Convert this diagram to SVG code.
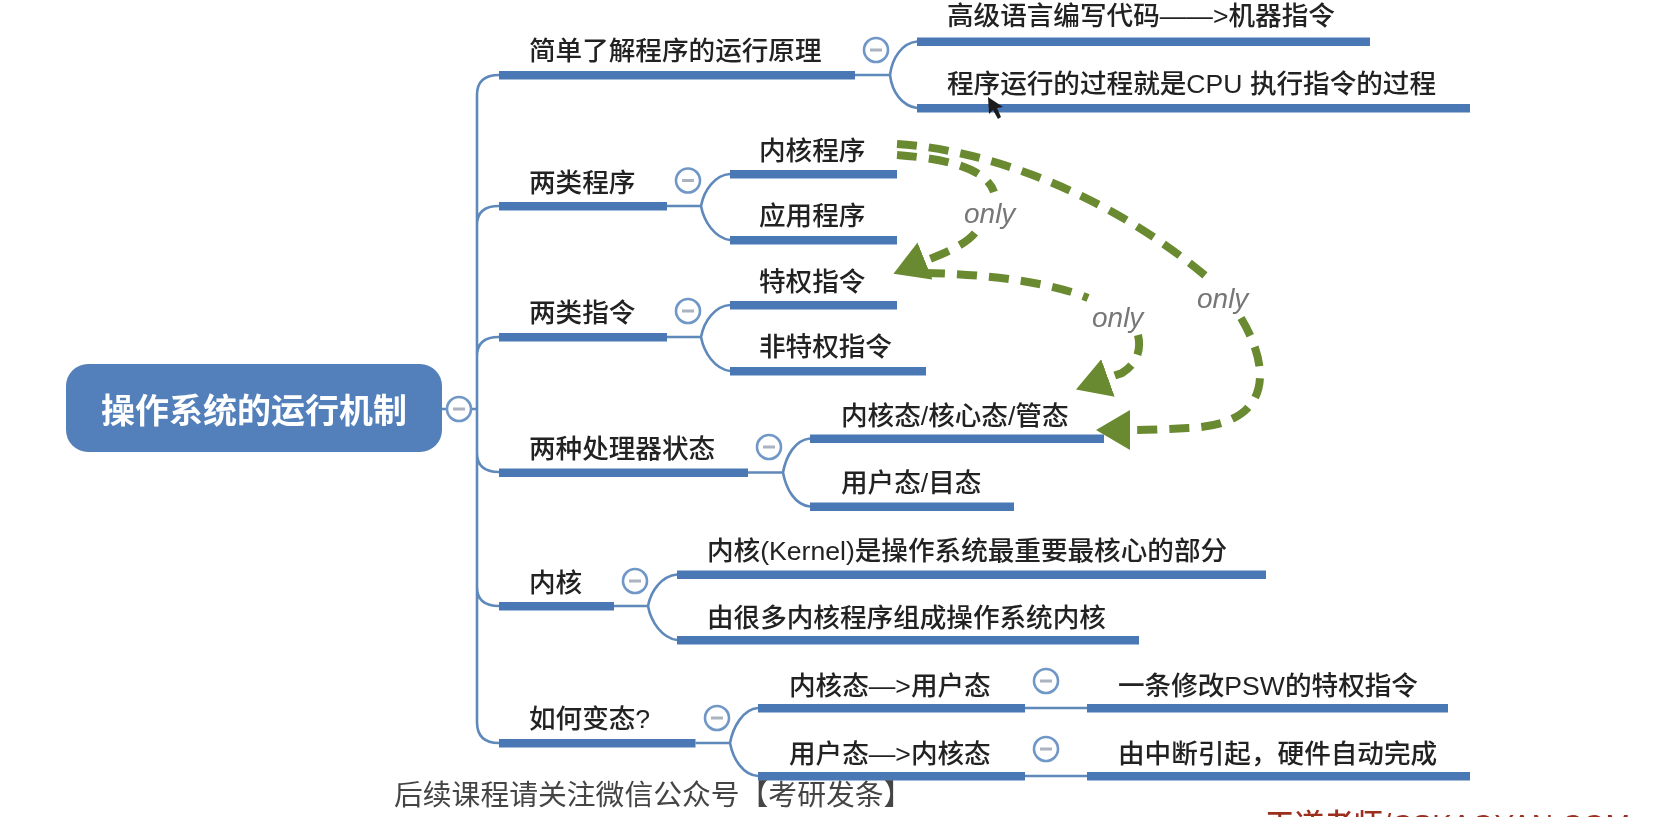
<svg xmlns="http://www.w3.org/2000/svg" width="1665" height="817" viewBox="0 0 1665 817">
<style>
text{font-family:"Liberation Sans","Noto Sans CJK SC",sans-serif;font-size:26.6px;font-weight:500;fill:#222}
.bar{fill:#4a78b5}
.thin{fill:none;stroke:#5f88bb;stroke-width:2.6}
.dash{fill:none;stroke:#6b8a30;stroke-width:8;stroke-dasharray:20 12}
.tog circle{fill:#fff;stroke:#6f97c6;stroke-width:2.6}
.tog rect{fill:#aab3bf}
.only{font-style:italic;font-weight:400;font-size:28px;fill:#777}
</style>
<defs>
<filter id="soft" x="0" y="0" width="100%" height="100%" filterUnits="userSpaceOnUse" primitiveUnits="userSpaceOnUse"><feGaussianBlur stdDeviation="0.7"/></filter>
<marker id="head" viewBox="0 0 34 40" refX="0" refY="20" markerWidth="34" markerHeight="40" markerUnits="userSpaceOnUse" orient="auto"><path d="M0 0L34 20L0 40Z" fill="#6b8a30"/></marker>
<g id="minus" class="tog"><circle r="12"/><rect x="-6" y="-1.500" width="12" height="3"/></g>
</defs>
<rect width="1665" height="817" fill="#fff"/>
<g filter="url(#soft)">
<g id="connectors">
<path class="thin" d="M442 409H477M499 75Q477 75 477 95V722Q477 743 499 743M499 206Q477 206 477 225M499 337Q477 337 477 356M477 453Q477 472 499 472M477 587Q477 606 499 606"/>
<path class="thin" d="M855 75H890M917 41.500C902 43 892 58 890 75C892 92 902 106 917 108"/>
<path class="thin" d="M667 206H701M730 174C715 175 704 190 701 206C704 222 715 238 730 240"/>
<path class="thin" d="M667 337H701M730 305C715 306 704 321 701 337C704 353 715 369 730 371"/>
<path class="thin" d="M748 472.500H783M810 438.500C795 440 786 456 783 472.500C786 489 795 505 810 506.500"/>
<path class="thin" d="M614 606H648M677 574.500C662 576 651 590 648 606C651 622 662 638 677 640"/>
<path class="thin" d="M695.500 743H730M758 708C743 709 733 727 730 743C733 759 743 775 758 776"/>
<path class="thin" d="M1025 708H1087M1025 776H1087"/>
<path class="dash" d="M897 155C935 158 985 165 994 192"/>
<path class="dash" d="M975 233C965 245 945 253 925 261" marker-end="url(#head)"/>
<path class="dash" d="M897 144C990 150 1110 195 1208 278"/>
<path class="dash" d="M1241 318C1272 370 1272 425 1188 428C1170 429 1150 430 1134 430L1130 430" marker-end="url(#head)"/>
<path class="dash" d="M925 273C985 274 1050 282 1088 298"/>
<path class="dash" d="M1138 335C1142 352 1135 365 1122 373L1108 378" marker-end="url(#head)"/>
<text class="only" x="964" y="223">only</text>
<text class="only" x="1197" y="308">only</text>
<text class="only" x="1092" y="327">only</text>
</g>
<g id="root"><rect x="66" y="364" width="376" height="88" rx="22" fill="#5380bb"/><text x="254" y="423" text-anchor="middle" style="font-size:34px;font-weight:700;fill:#fff">操作系统的运行机制</text><use href="#minus" x="459" y="409"/></g>
<g id="n1"><text x="529" y="60">简单了解程序的运行原理</text><rect class="bar" x="499" y="71" width="356" height="8.500"/><use href="#minus" x="876" y="50"/></g>
<g id="n1a"><text x="947" y="25">高级语言编写代码——&gt;机器指令</text><rect class="bar" x="917" y="37.500" width="453" height="8.500"/></g>
<g id="n1b"><text x="947" y="93">程序运行的过程就是CPU 执行指令的过程</text><rect class="bar" x="917" y="104" width="553" height="8.500"/></g>
<g id="n2"><text x="529" y="192">两类程序</text><rect class="bar" x="499" y="202" width="168" height="8.500"/><use href="#minus" x="688" y="180.500"/></g>
<g id="n2a"><text x="759" y="160">内核程序</text><rect class="bar" x="730" y="170" width="167" height="8.500"/></g>
<g id="n2b"><text x="759" y="225">应用程序</text><rect class="bar" x="730" y="236" width="167" height="8.500"/></g>
<g id="n3"><text x="529" y="322">两类指令</text><rect class="bar" x="499" y="333" width="168" height="8.500"/><use href="#minus" x="688" y="311"/></g>
<g id="n3a"><text x="759" y="291">特权指令</text><rect class="bar" x="730" y="301" width="167" height="8.500"/></g>
<g id="n3b"><text x="759" y="356">非特权指令</text><rect class="bar" x="730" y="367" width="196" height="8.500"/></g>
<g id="n4"><text x="529" y="458">两种处理器状态</text><rect class="bar" x="499" y="468.500" width="249" height="8.500"/><use href="#minus" x="769" y="447"/></g>
<g id="n4a"><text x="841" y="425">内核态/核心态/管态</text><rect class="bar" x="810" y="434.500" width="294" height="8.500"/></g>
<g id="n4b"><text x="841" y="492">用户态/目态</text><rect class="bar" x="810" y="502.500" width="204" height="8.500"/></g>
<g id="n5"><text x="529" y="592">内核</text><rect class="bar" x="499" y="602" width="115" height="8.500"/><use href="#minus" x="635" y="581"/></g>
<g id="n5a"><text x="707" y="560">内核(Kernel)是操作系统最重要最核心的部分</text><rect class="bar" x="677" y="570.500" width="589" height="8.500"/></g>
<g id="n5b"><text x="707" y="627">由很多内核程序组成操作系统内核</text><rect class="bar" x="677" y="636" width="462" height="8.500"/></g>
<g id="n6"><text x="529" y="728">如何变态?</text><rect class="bar" x="499" y="739" width="196.500" height="8.500"/><use href="#minus" x="717" y="718"/></g>
<g id="n6a"><text x="789" y="695">内核态—&gt;用户态</text><rect class="bar" x="758" y="704" width="267" height="8.500"/><use href="#minus" x="1046" y="681"/></g>
<g id="n6b"><text x="789" y="763">用户态—&gt;内核态</text><rect class="bar" x="758" y="772" width="267" height="8.500"/><use href="#minus" x="1046" y="749"/></g>
<g id="n6a1"><text x="1118" y="695">一条修改PSW的特权指令</text><rect class="bar" x="1087" y="704" width="361" height="8.500"/></g>
<g id="n6b1"><text x="1118" y="763">由中断引起，硬件自动完成</text><rect class="bar" x="1087" y="772" width="383" height="8.500"/></g>
<text x="394" y="805" style="font-size:28.800px;font-weight:400;fill:#444">后续课程请关注微信公众号【考研发条】</text>
<text x="1265" y="835" style="font-size:29.500px;fill:#9b2f1e">王道老师/CSKAOYAN.COM</text>
<path d="M988 97L989 114L993 110L998 119L1001 117L997 108L1003 107Z" fill="#1c1c1c"/>
</g>
</svg>
